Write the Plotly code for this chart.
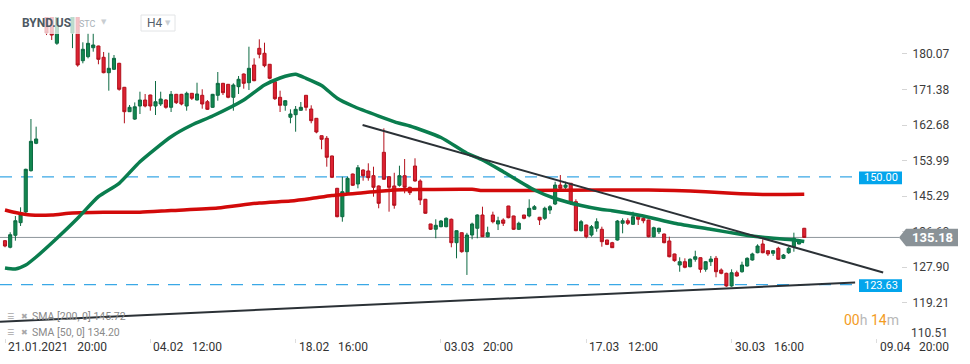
import plotly.graph_objects as go

# ---------------- data ----------------
candle_idx = list(range(155))
opens = [134.38, 132.77, 135.70, 138.79, 141.40, 151.51, 158.21, 192.0, 196.0, 193.0,
         182.70, 195.0, 205.0, 185.20, 190.0, 178.43, 179.41, 181.60, 182.02, 179.26,
         175.49, 176.32, 177.79, 171.92, 165.95, 164.14, 167.34, 168.81, 170.03, 167.34,
         167.83, 168.81, 167.02, 170.20, 170.20, 167.34, 170.45, 168.81, 169.96, 168.39,
         167.02, 169.96, 172.89, 172.65, 169.47, 172.07, 175.17, 173.04, 177.37, 181.46,
         180.24, 177.55, 173.29, 169.47, 167.51, 164.58, 165.21, 166.29, 169.96, 166.61,
         164.33, 160.07, 159.44, 155.11, 147.20, 140.25, 146.13, 150.70, 148.26, 151.68,
         151.44, 150.29, 147.77, 156.01, 150.04, 147.77, 147.94, 150.29, 147.45, 152.66,
         148.99, 144.52, 138.47, 137.18, 137.81, 137.81, 139.62, 133.89, 136.34, 131.69,
         135.77, 137.42, 140.67, 135.36, 140.67, 138.47, 139.45, 142.87, 140.43, 137.17,
         140.67, 140.43, 142.06, 140.11, 139.86, 141.89, 143.36, 148.00, 147.45, 148.43,
         143.93, 136.83, 138.22, 135.77, 137.42, 137.17, 134.55, 133.89, 134.55, 138.64,
         139.27, 138.39, 140.25, 139.86, 139.45, 135.36, 136.58, 136.02, 134.31, 131.13,
         128.43, 129.24, 128.02, 129.83, 130.22, 127.38, 129.24, 130.07, 127.21, 126.40,
         123.30, 126.55, 126.79, 128.19, 129.66, 131.44, 133.57, 131.93, 131.30, 132.52,
         130.07, 131.44, 132.91, 133.57, 137.42]
highs = [134.55, 136.44, 140.42, 142.55, 152.00, 164.16, 162.28, 208.0, 199.0, 196.0,
         194.0, 215.0, 212.0, 195.0, 193.0, 182.93, 185.13, 185.13, 182.10, 180.56,
         180.38, 179.82, 177.90, 172.00, 167.59, 168.22, 170.84, 170.28, 170.10, 173.46,
         170.84, 169.00, 171.01, 170.30, 170.30, 170.84, 170.50, 173.04, 171.43, 168.81,
         170.30, 175.66, 173.00, 172.70, 172.89, 174.68, 175.30, 181.85, 179.01, 183.66,
         182.83, 177.60, 173.40, 171.09, 168.81, 166.53, 167.34, 168.32, 170.00, 167.51,
         164.40, 160.10, 160.00, 155.20, 147.30, 150.04, 150.04, 150.80, 152.90, 151.85,
         153.32, 152.49, 147.90, 161.88, 150.10, 151.00, 152.73, 154.37, 147.60, 154.54,
         149.40, 144.60, 138.50, 139.62, 139.45, 140.10, 139.80, 136.90, 136.40, 136.30,
         138.80, 140.84, 142.70, 137.81, 141.48, 140.25, 139.86, 142.90, 140.50, 139.03,
         140.70, 144.51, 143.10, 140.20, 142.70, 143.10, 148.80, 150.45, 148.80, 148.50,
         144.51, 139.45, 138.30, 138.22, 139.86, 137.81, 134.60, 134.10, 139.45, 139.86,
         139.86, 141.48, 140.84, 140.25, 139.50, 137.81, 137.56, 136.10, 135.36, 131.20,
         130.32, 130.07, 130.07, 131.93, 130.30, 129.40, 130.64, 130.64, 127.60, 126.55,
         127.38, 127.05, 129.24, 130.32, 131.44, 133.50, 134.72, 132.10, 132.10, 132.90,
         131.13, 132.90, 136.34, 134.72, 137.50]
lows = [132.77, 132.52, 134.38, 137.98, 140.90, 151.30, 158.00, 190.5, 184.70, 183.50,
        182.30, 192.0, 193.0, 181.50, 176.96, 177.79, 179.00, 180.63, 177.55, 175.34,
        171.09, 176.15, 171.09, 163.11, 165.87, 163.92, 165.38, 167.02, 166.19, 165.14,
        167.34, 166.68, 165.87, 167.83, 167.51, 166.19, 168.81, 168.70, 166.68, 166.36,
        166.90, 168.64, 170.03, 169.23, 166.19, 170.28, 171.58, 171.26, 173.40, 179.01,
        176.81, 173.88, 168.81, 165.87, 166.19, 163.11, 161.05, 166.20, 166.19, 163.11,
        160.66, 156.75, 152.49, 149.70, 140.10, 139.03, 145.98, 147.77, 147.20, 149.06,
        149.06, 145.15, 142.31, 149.30, 141.48, 142.21, 147.60, 145.98, 145.56, 148.82,
        143.12, 141.00, 137.00, 134.97, 137.66, 137.66, 132.77, 130.07, 131.44, 126.00,
        134.72, 134.97, 135.30, 135.20, 138.63, 136.99, 137.98, 139.86, 136.99, 136.99,
        139.62, 140.10, 142.00, 138.22, 139.45, 140.91, 143.10, 146.37, 146.80, 143.12,
        136.70, 136.60, 134.97, 135.36, 136.58, 132.91, 133.30, 132.60, 134.40, 136.19,
        138.22, 138.22, 138.22, 138.64, 135.20, 135.20, 136.02, 133.74, 130.30, 129.24,
        126.79, 127.63, 127.87, 129.24, 126.55, 126.79, 128.19, 125.43, 126.16, 123.10,
        123.10, 125.60, 126.55, 128.02, 129.50, 131.30, 131.30, 130.64, 130.64, 129.66,
        129.90, 131.13, 131.69, 133.50, 135.18]
closes = [133.08, 135.85, 139.27, 140.74, 151.85, 158.70, 159.27, 204.0, 185.20, 184.70,
          191.0, 210.0, 198.0, 191.0, 177.37, 181.22, 182.68, 182.27, 178.77, 175.49,
          176.57, 179.01, 171.43, 165.95, 167.02, 167.15, 168.81, 167.34, 167.34, 168.39,
          169.05, 167.02, 170.20, 168.15, 167.83, 170.45, 169.23, 170.28, 167.83, 166.53,
          170.20, 172.89, 170.60, 169.47, 172.48, 173.88, 172.89, 176.57, 173.53, 179.99,
          177.20, 174.12, 169.13, 167.51, 168.64, 165.38, 166.53, 167.02, 167.02, 163.75,
          160.98, 159.19, 154.79, 149.89, 140.25, 146.37, 149.65, 147.94, 152.24, 150.29,
          149.80, 147.45, 143.53, 149.41, 147.45, 143.04, 150.29, 147.45, 146.13, 148.99,
          144.35, 141.09, 137.18, 138.15, 139.20, 139.86, 133.89, 136.83, 131.69, 135.77,
          138.47, 140.67, 135.36, 136.34, 139.03, 139.27, 138.64, 140.01, 137.17, 138.64,
          139.86, 142.31, 142.70, 139.45, 142.31, 142.70, 148.00, 147.20, 148.00, 143.53,
          136.83, 139.03, 135.36, 137.81, 139.03, 134.14, 133.48, 132.67, 139.20, 139.27,
          138.64, 140.25, 139.62, 139.27, 135.36, 137.56, 137.42, 133.89, 130.46, 129.49,
          129.24, 127.87, 129.83, 130.46, 127.38, 129.24, 129.90, 126.79, 126.40, 123.30,
          126.55, 125.74, 128.43, 130.07, 131.13, 133.08, 131.44, 131.13, 131.93, 129.83,
          130.88, 132.52, 134.97, 134.55, 135.18]

sma200_idx = [0, 2, 5, 9, 13, 19, 26, 32, 41, 49, 55, 59, 63, 69, 75, 80, 90, 92,
              100, 115, 124, 129, 135, 140, 146, 154]
sma200_val = [141.89, 141.28, 140.67, 140.67, 141.16, 141.33, 141.33, 141.77, 142.38,
              143.61, 144.10, 144.71, 145.44, 146.13, 146.79, 146.91, 146.96, 146.67,
              146.67, 146.79, 146.79, 146.67, 146.37, 145.98, 145.69, 145.72]

sma50_idx = [0, 2, 4, 6, 10, 14, 18, 22, 26, 32, 36, 40, 46, 50, 53, 55, 56, 58, 61,
             64, 67, 72, 76, 78, 84, 89, 92, 96, 102, 106, 111, 115, 117, 123, 129,
             136, 142, 146, 152, 154]
sma50_val = [127.70, 127.45, 128.43, 130.39, 134.97, 139.86, 145.15, 148.43, 153.71,
             159.83, 162.69, 164.89, 168.81, 172.48, 174.19, 174.93, 175.10, 174.12,
             172.36, 169.23, 167.34, 164.89, 163.11, 162.45, 159.63, 155.77, 154.13,
             151.27, 146.79, 144.71, 143.00, 142.02, 141.72, 140.43, 138.64, 137.17,
             135.90, 135.21, 134.55, 134.20]

trend_down_idx = [68.9, 169.2]
trend_down_val = [162.70, 126.61]
trend_up_idx = [-0.96, 163.8]
trend_up_val = [114.56, 124.15]

x_tick_idx = [0, 28, 56, 84, 112, 140, 168]
x_tick_text = ["21.01.2021\u00a0\u00a0 20:00", "04.02\u00a0\u00a0 12:00", "18.02\u00a0\u00a0 16:00",
               "03.03\u00a0\u00a0 20:00", "17.03\u00a0\u00a0 12:00", "30.03\u00a0\u00a0 16:00",
               "09.04\u00a0\u00a0 20:00"]
y_tick_vals = [119.21, 127.90, 136.60, 145.29, 153.99, 162.68, 171.38, 180.07]
y_tick_text = ["119.21", "127.90", "136.60", "145.29", "153.99", "162.68", "171.38", "180.07"]

resistance_level = 150.00
support_level = 123.63
last_price = 135.18
sma200_last = 145.72
sma50_last = 134.20

# ---------------- geometry ----------------
W, H = 970, 364
M_L, M_R, M_T, M_B = 0, 69, 17, 26
PW = W - M_L - M_R
PH = H - M_T - M_B
Y_MIN, Y_MAX = 110.57, 189.12
X_MIN, X_MAX = -0.963, 172.64
FONT = "Roboto"


def px2paper(px):
    return px / PW


def py2paper(py):
    return (M_T + PH - py) / PH


def price2py(p):
    return M_T + (Y_MAX - p) / (Y_MAX - Y_MIN) * PH


fig = go.Figure()

fig.add_trace(go.Candlestick(
    x=candle_idx, open=opens, high=highs, low=lows, close=closes,
    increasing=dict(line=dict(color="#0c6a42", width=1), fillcolor="#12874f"),
    decreasing=dict(line=dict(color="#b3101c", width=1), fillcolor="#dd2232"),
    whiskerwidth=0, showlegend=False, hoverinfo="skip"))

fig.add_trace(go.Scatter(x=sma200_idx, y=sma200_val, mode="lines",
                         line=dict(color="#d20a0a", width=3.5, shape="spline", smoothing=0.6),
                         showlegend=False, hoverinfo="skip"))
fig.add_trace(go.Scatter(x=sma50_idx, y=sma50_val, mode="lines",
                         line=dict(color="#0a7d4e", width=3.5, shape="spline", smoothing=0.6),
                         showlegend=False, hoverinfo="skip"))
fig.add_trace(go.Scatter(x=trend_down_idx, y=trend_down_val, mode="lines",
                         line=dict(color="#2b3136", width=2),
                         showlegend=False, hoverinfo="skip"))
fig.add_trace(go.Scatter(x=trend_up_idx, y=trend_up_val, mode="lines",
                         line=dict(color="#2b3136", width=2),
                         showlegend=False, hoverinfo="skip"))

shapes = []
annotations = []

# horizontal levels
for lvl in (resistance_level, support_level):
    shapes.append(dict(type="line", xref="paper", yref="y", x0=0, x1=px2paper(858),
                       y0=lvl, y1=lvl, layer="below",
                       line=dict(color="#3aa8e6", width=1.4, dash="12px,9px")))
    cy = price2py(lvl) + 1
    shapes.append(dict(type="rect", xref="paper", yref="paper",
                       x0=px2paper(859), x1=px2paper(902),
                       y0=py2paper(cy + 6.3), y1=py2paper(cy - 6.3),
                       fillcolor="#03a5ec", line=dict(width=0)))
    annotations.append(dict(xref="paper", yref="paper", x=px2paper(880.5), y=py2paper(cy),
                            text=f"{lvl:.2f}", showarrow=False, xanchor="center", yanchor="middle",
                            font=dict(family=FONT, size=11, color="white")))

# last price line + label
shapes.append(dict(type="line", xref="paper", yref="y", x0=0, x1=px2paper(899),
                   y0=last_price, y1=last_price, layer="below",
                   line=dict(color="#8d969b", width=1)))
lp = price2py(last_price)
shapes.append(dict(type="path", xref="paper", yref="paper",
                   path=(f"M {px2paper(899)},{py2paper(lp)} L {px2paper(906)},{py2paper(lp - 8.7)} "
                         f"L {px2paper(958)},{py2paper(lp - 8.7)} L {px2paper(958)},{py2paper(lp + 8.7)} "
                         f"L {px2paper(906)},{py2paper(lp + 8.7)} Z"),
                   fillcolor="#8a9297", line=dict(width=0)))
annotations.append(dict(xref="paper", yref="paper", x=px2paper(932), y=py2paper(lp),
                        text=f"<b>{last_price:.2f}</b>", showarrow=False,
                        xanchor="center", yanchor="middle",
                        font=dict(family=FONT, size=13, color="white")))

# header overlay band (semi transparent)
shapes.append(dict(type="rect", xref="paper", yref="paper", x0=0, x1=px2paper(240),
                   y0=py2paper(34), y1=py2paper(M_T), layer="above",
                   fillcolor="rgba(255,255,255,0.72)", line=dict(width=0)))
# H4 box
shapes.append(dict(type="rect", xref="paper", yref="paper", x0=px2paper(141), x1=px2paper(175),
                   y0=py2paper(31), y1=py2paper(15), layer="above",
                   fillcolor="rgba(255,255,255,0.9)", line=dict(color="#e2e4e6", width=1)))

annotations.append(dict(xref="paper", yref="paper", x=px2paper(20), y=py2paper(23.5),
                        text="<b>BYND.US</b>", showarrow=False, xanchor="left", yanchor="middle",
                        font=dict(family=FONT, size=12, color="#4e5964")))
annotations.append(dict(xref="paper", yref="paper", x=px2paper(77), y=py2paper(24.5),
                        text="STC", showarrow=False, xanchor="left", yanchor="middle",
                        font=dict(family=FONT, size=9, color="#a9b1b8")))
annotations.append(dict(xref="paper", yref="paper", x=px2paper(99), y=py2paper(22),
                        text="▼", showarrow=False, xanchor="left", yanchor="middle",
                        font=dict(family="DejaVu Sans", size=7, color="#c9cdd1")))
annotations.append(dict(xref="paper", yref="paper", x=px2paper(145), y=py2paper(23.5),
                        text="H4", showarrow=False, xanchor="left", yanchor="middle",
                        font=dict(family=FONT, size=12, color="#55606a")))
annotations.append(dict(xref="paper", yref="paper", x=px2paper(163), y=py2paper(23),
                        text="▼", showarrow=False, xanchor="left", yanchor="middle",
                        font=dict(family="DejaVu Sans", size=7, color="#c9cdd1")))

# legend texts
for py, txt in ((316.5, f"SMA [200, 0] {sma200_last:.2f}"), (332, f"SMA [50, 0] {sma50_last:.2f}")):
    annotations.append(dict(xref="paper", yref="paper", x=px2paper(5), y=py2paper(py),
                            text="☰", showarrow=False, xanchor="left", yanchor="middle",
                            font=dict(family="DejaVu Sans", size=8, color="#a8a8a8")))
    annotations.append(dict(xref="paper", yref="paper", x=px2paper(19), y=py2paper(py),
                            text="✖", showarrow=False, xanchor="left", yanchor="middle",
                            font=dict(family="DejaVu Sans", size=8, color="#a8a8a8")))
    annotations.append(dict(xref="paper", yref="paper", x=px2paper(30), y=py2paper(py),
                            text=txt, showarrow=False, xanchor="left", yanchor="middle",
                            font=dict(family=FONT, size=10.5, color="#8a8a8a")))

# countdown
annotations.append(dict(xref="paper", yref="paper", x=px2paper(842), y=py2paper(319.5),
                        text=('<span style="color:#f39c1f">00</span><span style="color:#b8b8b8">h</span> '
                              '<span style="color:#f39c1f">14</span><span style="color:#b8b8b8">m</span>'),
                        showarrow=False, xanchor="left", yanchor="middle",
                        font=dict(family=FONT, size=14)))

# x labels
for xi, txt in zip(x_tick_idx, x_tick_text):
    annotations.append(dict(xref="x", yref="paper", x=xi, y=0, yanchor="top", xanchor="left",
                            xshift=1, yshift=0, text=txt, showarrow=False,
                            font=dict(family=FONT, size=12, color="#333333")))

# bottom y label (clamped above the date labels)
annotations.append(dict(xref="paper", yref="paper", x=px2paper(909), y=py2paper(333),
                        text="110.51", showarrow=False, xanchor="left", yanchor="middle",
                        font=dict(family=FONT, size=12, color="#3c3c3c")))

fig.update_layout(
    width=W, height=H,
    margin=dict(l=M_L, r=M_R, t=M_T, b=M_B, pad=0),
    paper_bgcolor="white", plot_bgcolor="white",
    showlegend=False, hovermode=False,
    boxgap=0.3, boxgroupgap=0.15,
    shapes=shapes, annotations=annotations,
    xaxis=dict(range=[X_MIN, X_MAX], rangeslider=dict(visible=False), showgrid=False,
               zeroline=False, showline=False, tickvals=x_tick_idx, showticklabels=False,
               ticks="outside", ticklen=4, tickcolor="#dddddd", fixedrange=True),
    yaxis=dict(range=[Y_MIN, Y_MAX], side="right", showgrid=False, zeroline=False,
               showline=False, tickvals=y_tick_vals, ticktext=y_tick_text,
               ticks="outside", ticklen=5, tickcolor="#d5d5d5", ticklabelstandoff=3,
               tickfont=dict(family=FONT, size=12, color="#3c3c3c"), fixedrange=True),
)

fig.write_html("out.html", config=dict(displayModeBar=False),
               post_script="document.body.style.margin='0';document.body.style.overflow='hidden';")
